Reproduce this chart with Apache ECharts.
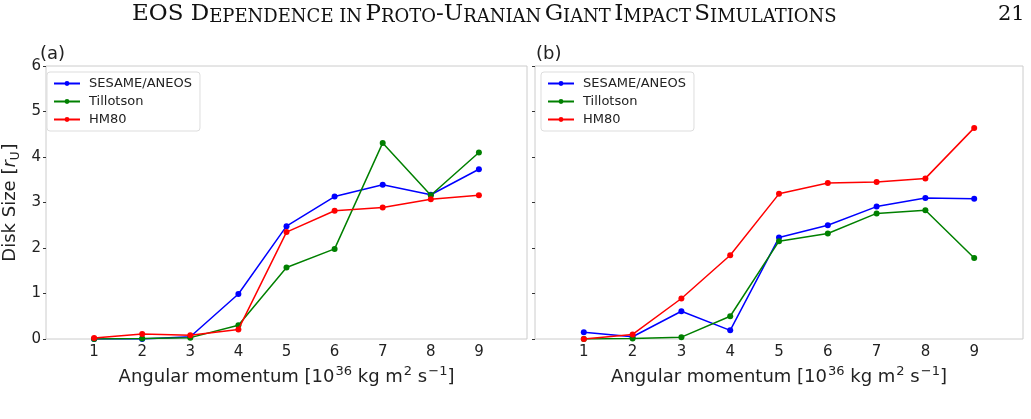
<!DOCTYPE html>
<html>
<head>
<meta charset="utf-8">
<script src="https://cdn.jsdelivr.net/npm/echarts@6/dist/echarts.min.js"></script>
<style>
  html, body { margin: 0; padding: 0; background: #fff; }
  #chart { width: 1031px; height: 419px; }
</style>
</head>
<body>
<div id="chart"></div>
<script>
// angular momentum values (x axis)
var momentum = [1, 2, 3, 4, 5, 6, 7, 8, 9]
var xTicks = [1, 2, 3, 4, 5, 6, 7, 8, 9]

// panel (a)
var sesameA = [0.0, 0.0, 0.05, 0.99, 2.48, 3.13, 3.39, 3.17, 3.73]
var tillotsonA = [0.0, 0.01, 0.03, 0.30, 1.57, 1.98, 4.31, 3.16, 4.10]
var hm80A = [0.02, 0.11, 0.08, 0.21, 2.35, 2.82, 2.89, 3.07, 3.16]

// panel (b)
var sesameB = [0.15, 0.05, 0.61, 0.19, 2.23, 2.50, 2.91, 3.10, 3.08]
var tillotsonB = [0.0, 0.01, 0.04, 0.50, 2.15, 2.32, 2.76, 2.83, 1.78]
var hm80B = [0.0, 0.10, 0.89, 1.84, 3.19, 3.43, 3.45, 3.53, 4.64]

var names = ['SESAME/ANEOS', 'Tillotson', 'HM80']
var colors = ['#0000ff', '#008000', '#ff0000']

function pairs(ys) {
    return momentum.map(function(x, i) { return [x, ys[i]] })
}

function makeSeries(arrs, idx) {
    return arrs.map(function(ys, k) {
        return {
            name: names[k],
            type: 'line',
            xAxisIndex: idx,
            yAxisIndex: idx,
            data: pairs(ys),
            symbol: 'circle',
            symbolSize: 6,
            lineStyle: { width: 1.5, color: colors[k] },
            itemStyle: { color: colors[k] },
            emphasis: { disabled: true },
            z: 2 + k
        }
    })
}

var tickFont = { fontFamily: 'DejaVu Sans', fontSize: 15, color: '#222' }

function xAxis(idx) {
    return {
        gridIndex: idx,
        type: 'value',
        min: 0,
        max: 10,
        interval: 1,
        name: '{n|Angular momentum [10}{s|36}{n| kg m}{s|2}{n| s}{s|−1}{n|]}',
        nameLocation: 'middle',
        nameGap: 24,
        nameTextStyle: {
            rich: {
                n: { fontFamily: 'DejaVu Sans', fontSize: 18, color: '#222', lineHeight: 20, verticalAlign: 'bottom' },
                s: { fontFamily: 'DejaVu Sans', fontSize: 13, color: '#222', lineHeight: 13, verticalAlign: 'bottom', padding: [0, 0, 8, 1] }
            }
        },
        axisLine: { show: false },
        axisTick: { show: false },
        splitLine: { show: false },
        axisLabel: Object.assign({
            margin: 6,
            formatter: function(v) { return xTicks.indexOf(v) >= 0 ? String(v) : '' }
        }, tickFont)
    }
}

function yAxis(idx) {
    var ax = {
        gridIndex: idx,
        type: 'value',
        min: 0,
        max: 6,
        interval: 1,
        axisLine: { show: false },
        axisTick: { show: true, length: 3, lineStyle: { color: '#333' } },
        splitLine: { show: false },
        axisLabel: Object.assign({ show: idx === 0, margin: 5 }, tickFont)
    }
    if (idx === 0) {
        ax.name = '{n|Disk Size [}{i|r}{u|U}{n|]}'
        ax.nameLocation = 'middle'
        ax.nameRotate = 90
        ax.nameGap = 24
        ax.nameTextStyle = {
            rich: {
                n: { fontFamily: 'DejaVu Sans', fontSize: 18, color: '#222', lineHeight: 24 },
                i: { fontFamily: 'DejaVu Sans', fontStyle: 'italic', fontSize: 18, color: '#222', lineHeight: 24 },
                u: { fontFamily: 'DejaVu Sans', fontSize: 12, color: '#222', lineHeight: 24, verticalAlign: 'bottom', padding: [0, 1, 0, 0] }
            }
        }
    }
    return ax
}

function legend(left) {
    return {
        show: true,
        orient: 'vertical',
        left: left,
        top: 72,
        data: names,
        itemWidth: 26,
        itemHeight: 6,
        itemGap: 5,
        padding: [5, 8, 5, 6],
        backgroundColor: '#fff',
        borderColor: '#ddd',
        borderWidth: 1,
        borderRadius: 3,
        selectedMode: false,
        textStyle: { fontFamily: 'DejaVu Sans', fontSize: 13, color: '#222', padding: [0, 0, 0, 4] }
    }
}

var chart = echarts.init(document.getElementById('chart'), null, { renderer: 'canvas' })
var option = {
    animation: false,
    backgroundColor: '#fff',
    grid: [
        { left: 41, top: 66, width: 486, height: 273, show: true, borderColor: '#cccccc', borderWidth: 1, backgroundColor: '#fff' },
        { left: 535, top: 66, width: 488, height: 273, show: true, borderColor: '#cccccc', borderWidth: 1, backgroundColor: '#fff' }
    ],
    xAxis: [xAxis(0), xAxis(1)],
    yAxis: [yAxis(0), yAxis(1)],
    legend: [legend(47), legend(541)],
    graphic: [
        {
            type: 'text', left: 132, top: 3,
            style: {
                text: '{b|EOS D}{s|EPENDENCE IN} {b|P}{s|ROTO}{b|-U}{s|RANIAN} {b|G}{s|IANT} {b|I}{s|MPACT} {b|S}{s|IMULATIONS}',
                rich: {
                    b: { fontFamily: 'DejaVu Serif', fontSize: 23, fill: '#111', verticalAlign: 'bottom', lineHeight: 26 },
                    s: { fontFamily: 'DejaVu Serif', fontSize: 18, fill: '#111', verticalAlign: 'bottom', lineHeight: 26 }
                }
            }
        },
        { type: 'text', left: 998, top: 4, style: { text: '21', fontFamily: 'DejaVu Serif', fontSize: 21, fill: '#111' } },
        { type: 'text', left: 40, top: 45, style: { text: '(a)', fontFamily: 'DejaVu Sans', fontSize: 18, fill: '#222' } },
        { type: 'text', left: 536, top: 45, style: { text: '(b)', fontFamily: 'DejaVu Sans', fontSize: 18, fill: '#222' } }
    ],
    series: makeSeries([sesameA, tillotsonA, hm80A], 0).concat(makeSeries([sesameB, tillotsonB, hm80B], 1))
}
chart.setOption(option)
</script>
</body>
</html>
